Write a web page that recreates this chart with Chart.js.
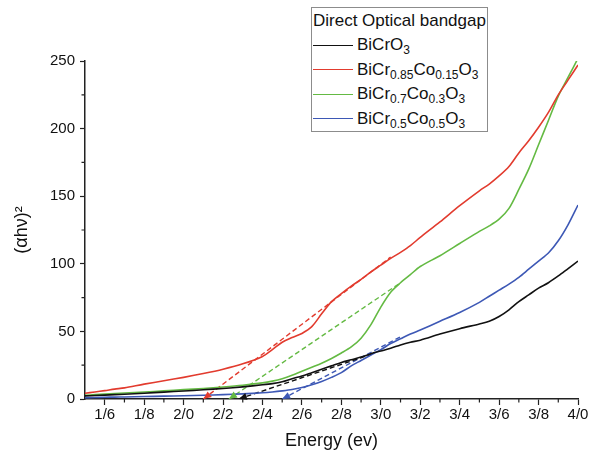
<!DOCTYPE html>
<html>
<head>
<meta charset="utf-8">
<title>Direct Optical bandgap</title>
<script src="https://cdn.jsdelivr.net/npm/chart.js@4.4.1/dist/chart.umd.min.js"></script>
<style>
    html, body { margin: 0; padding: 0; background: #fff; }
    #wrap { position: relative; width: 592px; height: 452px; }
    #legend {
        position: absolute; left: 311px; top: 7px; width: 177px; height: 125px;
        box-sizing: border-box; border: 1px solid #8c8c8c; background: #fff;
        font-family: "Liberation Sans", Arial, sans-serif; color: #111;
    }
    #legend .title { font-size: 17px; line-height: 24px; margin-top: 1px; padding-left: 1px; white-space: nowrap; }
    #legend .row { display: flex; align-items: center; height: 24.5px; white-space: nowrap; }
    #legend .swatch { width: 40px; height: 0; border-top: 1.6px solid #000; margin: 0 4px 0 1px; }
    #legend .name { font-size: 17px; line-height: 20px; }
    #legend sub { font-size: 12px; vertical-align: -4px; line-height: 0; }
</style>
</head>
<body>
<div id="wrap">
    <canvas id="bandgap-chart" width="592" height="452"></canvas>
    <div id="legend"></div>
</div>
<script>
// Energia (eV) comum a todas as curvas
const energy = [1.50, 1.55, 1.60, 1.65, 1.70, 1.80, 1.90, 2.00, 2.10, 2.20, 2.30, 2.40, 2.45, 2.50,
    2.55, 2.60, 2.65, 2.70, 2.75, 2.80, 2.85, 2.90, 2.95, 3.00, 3.05, 3.10, 3.15, 3.20, 3.30, 3.40,
    3.50, 3.55, 3.60, 3.65, 3.70, 3.75, 3.80, 3.85, 3.90, 3.95, 4.00];

// (alpha h nu)^2 para cada amostra
const bicro3 = [2.3, 2.6, 2.9, 3.2, 3.5, 4.3, 5.1, 5.9, 6.8, 7.8, 9.0, 10.5, 11.4, 12.8,
    15.0, 17.0, 19.5, 22.0, 24.5, 27.0, 29.0, 31.0, 33.5, 35.5, 37.5, 40.0, 42.0, 43.5, 48.0, 52.0,
    55.5, 57.5, 61.0, 66.0, 72.0, 77.0, 82.0, 86.0, 91.0, 96.5, 102.0];
const co015 = [4.2, 5.2, 6.2, 7.3, 8.2, 11.0, 13.5, 16.0, 18.8, 22.0, 26.0, 31.5, 36.5, 42.0,
    45.5, 48.5, 53.5, 63.0, 72.0, 78.0, 83.5, 88.5, 94.0, 99.0, 104.0, 108.5, 113.5, 119.5, 131.0, 143.0,
    154.0, 159.0, 165.0, 172.0, 182.0, 191.0, 201.0, 212.0, 225.0, 236.0, 247.0];
const co03 = [2.8, 3.2, 3.6, 4.0, 4.4, 5.2, 6.0, 6.9, 7.8, 8.9, 10.2, 11.9, 13.2, 15.0,
    17.5, 20.5, 23.5, 26.5, 30.0, 34.0, 38.5, 45.0, 55.0, 68.0, 79.0, 86.0, 92.0, 98.0, 106.0, 115.0,
    124.0, 128.0, 133.0, 141.0, 155.0, 170.0, 188.0, 206.0, 224.0, 238.0, 252.0];
const co05 = [1.0, 1.1, 1.3, 1.4, 1.5, 1.8, 2.1, 2.4, 2.8, 3.2, 3.8, 4.6, 5.2, 6.0,
    7.0, 8.5, 10.5, 13.0, 16.0, 19.5, 24.5, 28.5, 32.5, 36.5, 41.0, 44.5, 48.0, 51.0, 57.5, 64.0,
    71.5, 76.0, 80.5, 85.0, 90.0, 96.0, 102.0, 108.0, 117.0, 129.0, 143.5];

// Retas tangentes (extrapolação até o eixo)
const fitRedE = [2.10, 3.05], fitRedV = [0, 105];
const fitGreenE = [2.23, 3.10], fitGreenV = [0, 86];
const fitBlackE = [2.28, 2.95], fitBlackV = [0, 33];
const fitBlueE = [2.50, 3.10], fitBlueV = [0, 46];

// Nomes (índices ímpares = subscrito)
const seriesNames = [
    ['BiCrO', '3'],
    ['BiCr', '0.85', 'Co', '0.15', 'O', '3'],
    ['BiCr', '0.7', 'Co', '0.3', 'O', '3'],
    ['BiCr', '0.5', 'Co', '0.5', 'O', '3']
];
const seriesColors = ['#111111', '#e23b2e', '#64ba43', '#3d58b5'];
const legendTitle = 'Direct Optical bandgap';

// Eixos
const xMajor = [1.6, 1.8, 2.0, 2.2, 2.4, 2.6, 2.8, 3.0, 3.2, 3.4, 3.6, 3.8, 4.0];
const xTickLabels = ['1/6', '1/8', '2/0', '2/2', '2/4', '2/6', '2/8', '3/0', '3/2', '3/4', '3/6', '3/8', '4/0'];
const xMinor = [1.7, 1.9, 2.1, 2.3, 2.5, 2.7, 2.9, 3.1, 3.3, 3.5, 3.7, 3.9];
const yMinor = [25, 75, 125, 175, 225];

const FONT = '"Liberation Sans", Arial, sans-serif';
const AXIS = '#222222';

function toPoints(xs, ys) {
    return xs.map((x, i) => ({ x: x, y: ys[i] }));
}

function curve(idx, values) {
    return {
        label: seriesNames[idx].join(''),
        data: toPoints(energy, values),
        borderColor: seriesColors[idx],
        backgroundColor: seriesColors[idx],
        borderWidth: 1.6,
        pointRadius: 0,
        tension: 0.3,
        inLegend: true
    };
}

function fitLine(idx, xs, ys) {
    return {
        label: seriesNames[idx].join('') + ' fit',
        data: toPoints(xs, ys),
        borderColor: seriesColors[idx],
        backgroundColor: seriesColors[idx],
        borderWidth: 1.4,
        borderDash: [5, 3],
        pointRadius: 0,
        isFit: true,
        inLegend: false
    };
}

// pontas de seta no início das retas (ponta tocando o eixo)
const fitArrows = {
    id: 'fitArrows',
    afterDatasetsDraw(chart) {
        const c = chart.ctx, sx = chart.scales.x, sy = chart.scales.y;
        c.save();
        chart.data.datasets.forEach(ds => {
            if (!ds.isFit) return;
            const p0 = ds.data[0], p1 = ds.data[1];
            const x0 = sx.getPixelForValue(p0.x), y0 = sy.getPixelForValue(p0.y);
            const x1 = sx.getPixelForValue(p1.x), y1 = sy.getPixelForValue(p1.y);
            const len = Math.hypot(x1 - x0, y1 - y0);
            const ux = (x1 - x0) / len, uy = (y1 - y0) / len;
            const L = 8, W = 3.5;
            const bx = x0 + ux * L, by = y0 + uy * L;
            c.fillStyle = ds.borderColor;
            c.beginPath();
            c.moveTo(x0, y0);
            c.lineTo(bx - uy * W, by + ux * W);
            c.lineTo(bx + uy * W, by - ux * W);
            c.closePath();
            c.fill();
        });
        c.restore();
    }
};

const minorTicks = {
    id: 'minorTicks',
    afterDraw(chart) {
        const c = chart.ctx, sx = chart.scales.x, sy = chart.scales.y;
        c.save();
        c.strokeStyle = AXIS;
        c.lineWidth = 1.2;
        c.beginPath();
        xMinor.forEach(v => {
            const px = sx.getPixelForValue(v);
            c.moveTo(px, sy.bottom);
            c.lineTo(px, sy.bottom + 3.5);
        });
        yMinor.forEach(v => {
            const py = sy.getPixelForValue(v);
            c.moveTo(sx.left, py);
            c.lineTo(sx.left - 3.5, py);
        });
        c.stroke();
        c.restore();
    }
};

const htmlLegend = {
    id: 'htmlLegend',
    afterUpdate(chart) {
        const box = document.getElementById('legend');
        box.innerHTML = '';
        const t = document.createElement('div');
        t.className = 'title';
        t.textContent = legendTitle;
        box.appendChild(t);
        let k = 0;
        chart.data.datasets.forEach(ds => {
            if (!ds.inLegend) return;
            const parts = seriesNames[k++];
            const row = document.createElement('div');
            row.className = 'row';
            const sw = document.createElement('span');
            sw.className = 'swatch';
            sw.style.borderTopColor = ds.borderColor;
            const name = document.createElement('span');
            name.className = 'name';
            parts.forEach((p, i) => {
                if (i % 2 === 1) {
                    const s = document.createElement('sub');
                    s.textContent = p;
                    name.appendChild(s);
                } else {
                    name.appendChild(document.createTextNode(p));
                }
            });
            row.appendChild(sw);
            row.appendChild(name);
            box.appendChild(row);
        });
    }
};

window.addEventListener('load', function() {
    if (typeof Chart === 'undefined') {
        console.error('Chart.js não disponível');
        return;
    }
    new Chart(document.getElementById('bandgap-chart'), {
        type: 'line',
        data: {
            datasets: [
                curve(0, bicro3),
                curve(1, co015),
                curve(2, co03),
                curve(3, co05),
                fitLine(1, fitRedE, fitRedV),
                fitLine(2, fitGreenE, fitGreenV),
                fitLine(0, fitBlackE, fitBlackV),
                fitLine(3, fitBlueE, fitBlueV)
            ]
        },
        options: {
            responsive: false,
            animation: false,
            layout: { padding: { top: 61, right: 14, left: 0, bottom: 0 } },
            plugins: {
                legend: { display: false },
                tooltip: { enabled: false }
            },
            scales: {
                x: {
                    type: 'linear',
                    min: 1.5,
                    max: 4.0,
                    afterBuildTicks: scale => { scale.ticks = xMajor.map(v => ({ value: v })); },
                    afterFit: scale => { scale.height = 53; },
                    border: { color: AXIS, width: 1.5 },
                    grid: { drawOnChartArea: false, tickLength: 6, color: AXIS, tickWidth: 1.2 },
                    ticks: {
                        autoSkip: false,
                        maxRotation: 0,
                        padding: 1,
                        color: '#111',
                        font: { family: FONT, size: 15 },
                        callback: (val, i) => xTickLabels[i]
                    },
                    title: {
                        display: true,
                        text: 'Energy (ev)',
                        color: '#111',
                        font: { family: FONT, size: 18 },
                        padding: { top: 1, bottom: 0 }
                    }
                },
                y: {
                    min: 0,
                    max: 250,
                    afterFit: scale => { scale.width = 85; },
                    border: { color: AXIS, width: 1.5 },
                    grid: { drawOnChartArea: false, tickLength: 5, color: AXIS, tickWidth: 1.2 },
                    ticks: {
                        stepSize: 50,
                        padding: 5,
                        color: '#111',
                        font: { family: FONT, size: 15 }
                    },
                    title: {
                        display: true,
                        text: '(αhν)²',
                        color: '#111',
                        font: { family: FONT, size: 18 },
                        padding: { top: 11, bottom: 0 }
                    }
                }
            }
        },
        plugins: [minorTicks, fitArrows, htmlLegend]
    });
});
</script>
</body>
</html>
